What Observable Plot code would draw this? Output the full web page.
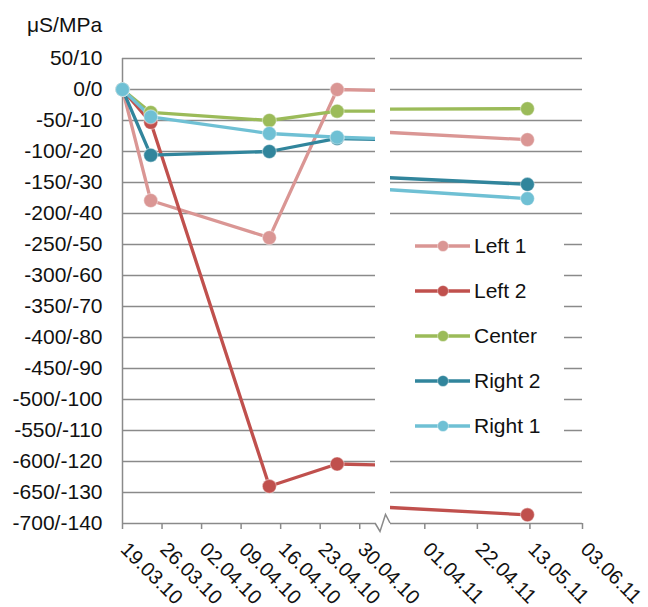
<!DOCTYPE html>
<html>
<head>
<meta charset="utf-8">
<script src="https://cdn.jsdelivr.net/npm/d3@7"></script>
<script src="https://cdn.jsdelivr.net/npm/@observablehq/plot@0.6"></script>
<style>
  html, body { margin: 0; padding: 0; background: #fff; }
  #wrap { position: relative; width: 648px; height: 607px; font-family: "Liberation Sans", Arial, sans-serif; }
  #wrap svg { position: absolute; left: 0; top: 0; }
  #unit { position: absolute; left: 27px; top: 15px; font-size: 21px; line-height: 20px; color: #111; }
  #legend { position: absolute; left: 390px; top: 228px; width: 174px; height: 219px; background: #fff; }
  .row { position: absolute; left: 25px; height: 20px; display: flex; align-items: center; font-size: 21px; color: #111; }
  .row svg { position: static !important; margin-right: 4px; }
</style>
</head>
<body>
<div id="wrap"><div id="unit">μS/MPa</div></div>
<script>
// ---- data ----
const dates = ["2010-03-19", "2010-03-24", "2010-04-14", "2010-04-26", "2011-05-12"];
const seriesNames = ["Left 1", "Left 2", "Center", "Right 2", "Right 1"];
const seriesColors = ["#DA9694", "#C0504D", "#9BBB59", "#31859C", "#6FC0D4"];
const left1 = [0, -179, -239, 0, -81];
const left2 = [0, -53, -640, -604, -686];
const center = [0, -37, -50, -35, -31];
const right2 = [0, -106, -100, -79, -153];
const right1 = [0, -44, -71, -77, -176];

const yTicks = [50, 0, -50, -100, -150, -200, -250, -300, -350, -400, -450, -500, -550, -600, -650, -700];
const yTickLabels = ["50/10", "0/0", "-50/-10", "-100/-20", "-150/-30", "-200/-40", "-250/-50", "-300/-60",
  "-350/-70", "-400/-80", "-450/-90", "-500/-100", "-550/-110", "-600/-120", "-650/-130", "-700/-140"];

const leftTickDates = ["2010-03-19", "2010-03-26", "2010-04-02", "2010-04-09", "2010-04-16", "2010-04-23", "2010-04-30"];
const leftTickLabels = ["19.03.10", "26.03.10", "02.04.10", "09.04.10", "16.04.10", "23.04.10", "30.04.10"];
const rightTickDates = ["2011-04-01", "2011-04-22", "2011-05-13", "2011-06-03"];
const rightTickLabels = ["01.04.11", "22.04.11", "13.05.11", "03.06.11"];

const leftDomain = [new Date("2010-03-19T00:00Z"), new Date("2010-05-02T19:00Z")];
const rightDomain = [new Date("2011-03-18T07:00Z"), new Date("2011-06-03T00:00Z")];

// ---- build tables ----
const values = [left1, left2, center, right2, right1];
const rows = [];
seriesNames.forEach((name, si) => {
  dates.forEach((d, i) => rows.push({series: name, date: new Date(d + "T00:00Z"), value: values[si][i]}));
});
const leftTicks = leftTickDates.map((d, i) => ({date: new Date(d + "T00:00Z"), label: leftTickLabels[i]}));
const rightTicks = rightTickDates.map((d, i) => ({date: new Date(d + "T00:00Z"), label: rightTickLabels[i]}));

const grid = "#8a8a8a";
const W = 648, H = 607;
const colorScale = {domain: seriesNames, range: seriesColors};

function panel(domain, ticks, mL, mR, withYAxis) {
  const inDomain = rows.filter(r => r.date >= domain[0] && r.date <= domain[1]);
  const marks = [
    Plot.ruleY(yTicks.filter(v => v > -700), {stroke: grid, strokeWidth: 1.5}),
    Plot.ruleY([-700], {stroke: grid, strokeWidth: 1.5}),
    Plot.axisX({ticks: ticks.map(t => t.date), tickSize: 6, tickFormat: () => "", stroke: grid, strokeWidth: 1.5}),
    Plot.text(ticks, {x: "date", text: "label", frameAnchor: "bottom", dx: 7, dy: 17, rotate: 45,
      textAnchor: "start", lineAnchor: "top", fontSize: 20, fill: "#111"}),
    Plot.line(rows, {x: "date", y: "value", z: "series", stroke: "series", strokeWidth: 3.3, clip: true}),
    Plot.dot(inDomain, {x: "date", y: "value", fill: "series", r: 7, stroke: "white", strokeOpacity: 0.4, strokeWidth: 1.2})
  ];
  if (withYAxis) {
    marks.unshift(Plot.ruleX([domain[0]], {stroke: grid, strokeWidth: 1.5}));
    marks.push(Plot.axisY({ticks: yTicks, tickSize: 0, tickPadding: 20, fontSize: 21, fill: "#111",
      tickFormat: v => yTickLabels[yTicks.indexOf(v)], label: null}));
  } else {
    marks.push(Plot.axisY({ticks: [], label: null}));
  }
  return Plot.plot({
    width: W, height: H,
    marginLeft: mL, marginRight: mR, marginTop: 58, marginBottom: 84,
    x: {type: "utc", domain, axis: null},
    y: {domain: [-700, 50], axis: null},
    color: colorScale,
    style: {background: "transparent", fontFamily: "Liberation Sans, Arial, sans-serif", fontSize: "20px", overflow: "visible"},
    marks
  });
}

const wrap = document.getElementById("wrap");
const leftPlot = panel(leftDomain, leftTicks, 122, 273, true);
const rightPlot = panel(rightDomain, rightTicks, 390, 66, false);
wrap.appendChild(leftPlot);
wrap.appendChild(rightPlot);

// axis break zigzag, placed from the two panels' scales
const x0 = leftPlot.scale("x").apply(leftDomain[1]);
const x1 = rightPlot.scale("x").apply(rightDomain[0]);
const yb = leftPlot.scale("y").apply(-700);
d3.select(rightPlot).append("path")
  .attr("d", `M${x0},${yb}L${x0 + 5},${yb + 8.5}L${x0 + 10.5},${yb - 8.5}L${x1},${yb}`)
  .attr("fill", "none").attr("stroke", grid).attr("stroke-width", 1.5);

// legend
const legend = document.createElement("div");
legend.id = "legend";
seriesNames.forEach((name, i) => {
  const row = document.createElement("div");
  row.className = "row";
  row.style.top = (8 + i * 45) + "px";
  const s = d3.create("svg").attr("width", 55).attr("height", 20);
  s.append("line").attr("x1", 0).attr("x2", 55).attr("y1", 10).attr("y2", 10)
    .attr("stroke", seriesColors[i]).attr("stroke-width", 3.3);
  s.append("circle").attr("cx", 28).attr("cy", 10).attr("r", 5.5).attr("fill", seriesColors[i])
    .attr("stroke", "white").attr("stroke-opacity", 0.4).attr("stroke-width", 1);
  row.appendChild(s.node());
  const t = document.createElement("span");
  t.textContent = name;
  row.appendChild(t);
  legend.appendChild(row);
});
wrap.appendChild(legend);
</script>
</body>
</html>
